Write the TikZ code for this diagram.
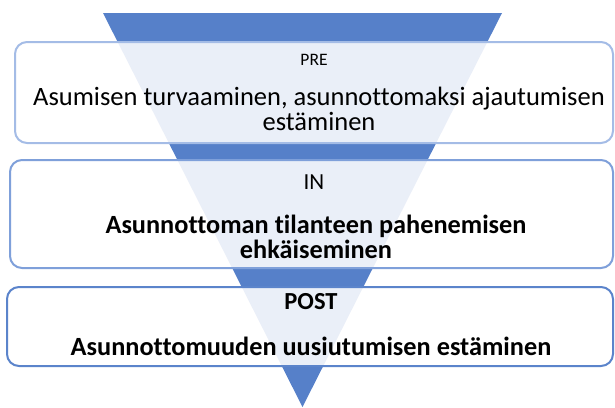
\documentclass[tikz,border=0pt]{standalone}
\usepackage{fontspec}
\setmainfont{Carlito}[Ligatures={NoCommon}]
\definecolor{tri}{HTML}{5680C9}
\definecolor{bA}{HTML}{A4BCE6}
\definecolor{bB}{HTML}{7FA0DA}
\definecolor{bC}{HTML}{5B84CB}
\tikzset{
  box/.style={draw=#1, line width=2pt, rounded corners=12pt, fill=white, fill opacity=0.88, text opacity=1},
  txt/.style={align=center, inner sep=0pt},
}
\begin{document}
\begin{tikzpicture}[x=1pt,y=-1pt]
\useasboundingbox (0,0) rectangle (615,407);
\fill[tri] (103,13) coordinate (t1) -- (502,13) coordinate (t2) -- (302.5,407) coordinate (t3) -- cycle;
% PRE box
\draw[box=bA] (15,42) rectangle (613,143);
\node[txt, font=\fontsize{17.5}{18}\selectfont] (pre) at (314,60) {PRE};
\node[txt, font=\fontsize{26.5}{25}\selectfont] (pretxt) at (319,109) {Asumisen turvaaminen, asunnottomaksi ajautumisen\\estäminen};
% IN box
\draw[box=bB] (10,160) rectangle (613,268);
\node[txt, font=\fontsize{23}{25}\selectfont] (in) at (314,182) {IN};
\node[txt, font=\fontsize{26.3}{25}\selectfont\bfseries] (intxt) at (316,237) {Asunnottoman tilanteen pahenemisen\\ehkäiseminen};
% POST box
\draw[box=bC] (7,287) rectangle (613,366);
\node[txt, font=\fontsize{24.5}{25}\selectfont\bfseries] (post) at (311,302) {POST};
\node[txt, font=\fontsize{26.3}{25}\selectfont\bfseries] (posttxt) at (311,346) {Asunnottomuuden uusiutumisen estäminen};
\end{tikzpicture}
\end{document}
